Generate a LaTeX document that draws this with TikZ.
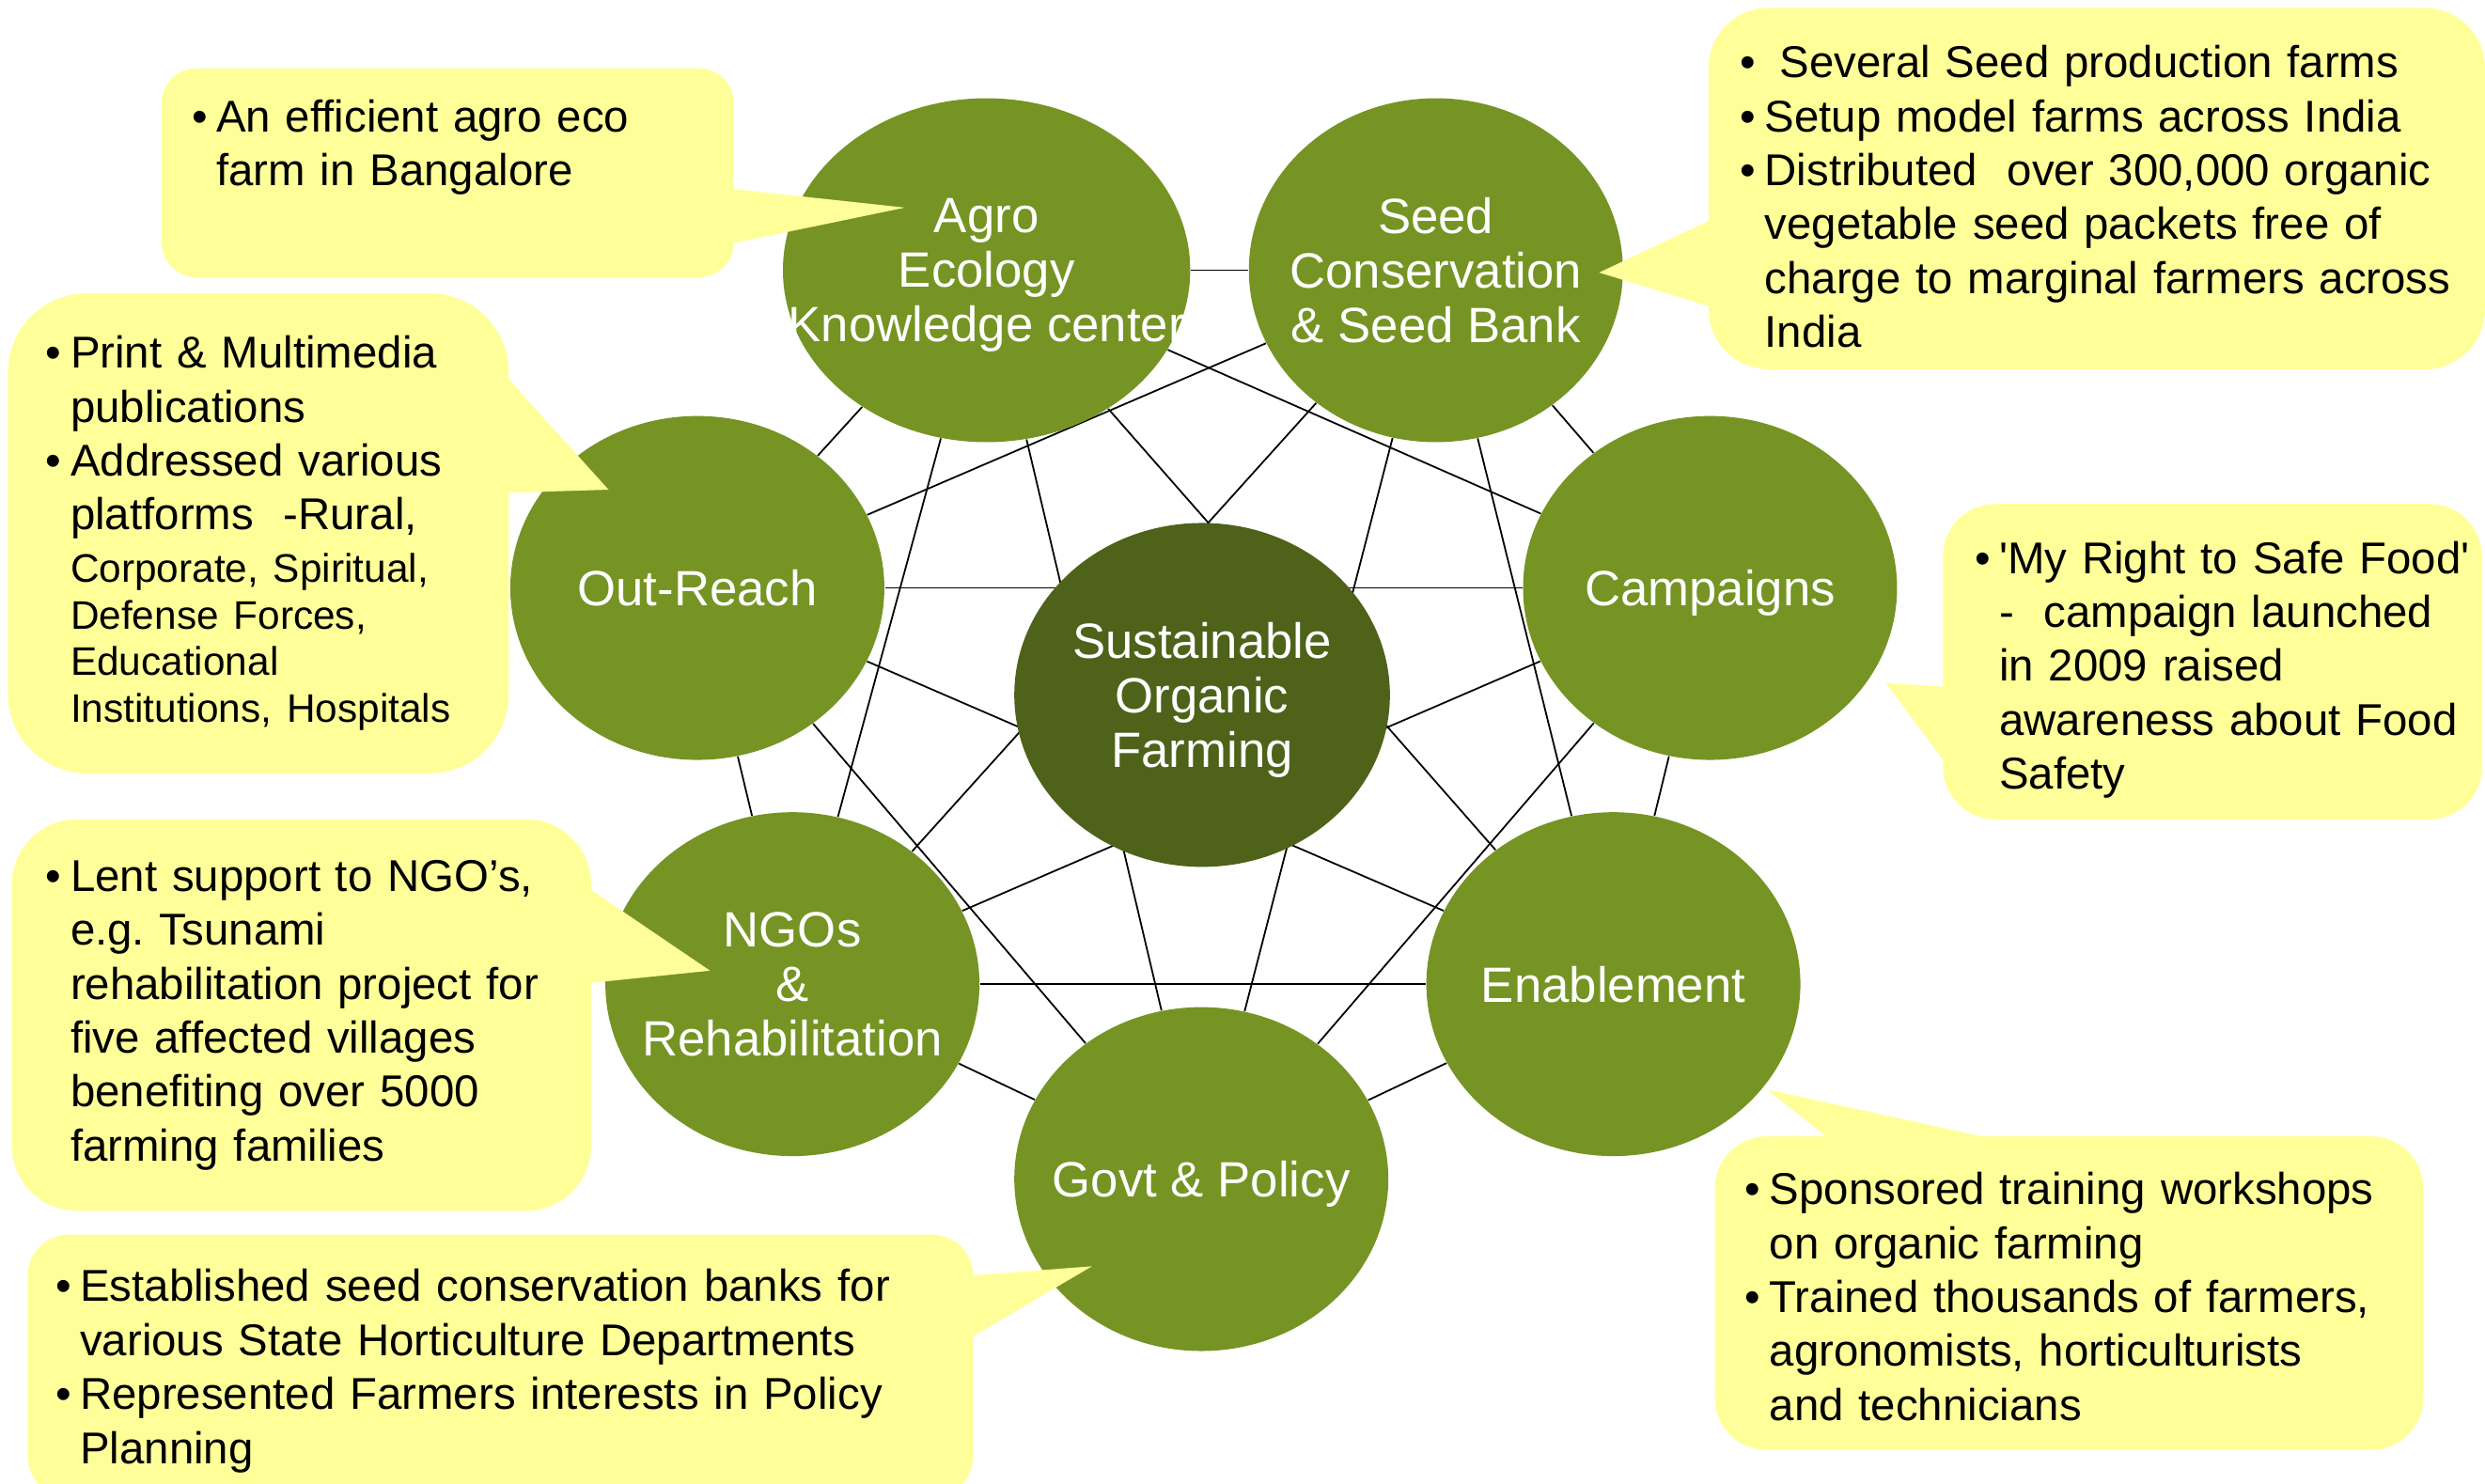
\documentclass[tikz,border=0pt]{standalone}
\usepackage{fontspec}
\setmainfont{Liberation Sans}
\usepackage{xcolor}
\usetikzlibrary{shapes.geometric,backgrounds}

\definecolor{hubgreen}{RGB}{117,148,35}
\definecolor{coregreen}{RGB}{78,98,25}
\definecolor{noteyellow}{RGB}{255,255,153}

\frenchspacing
\newcommand{\hubfont}{\fontsize{17.8}{19.6}\selectfont}
\newcommand{\notefont}{\fontsize{16}{19.35}\selectfont}
\newcommand{\smallnote}{\fontsize{14.3}{16.8}\selectfont}
\newcommand{\nitem}[1]{\mbox{\makebox[0.31cm][l]{\textbullet}#1}}
\newcommand{\ncont}[1]{\mbox{\hspace*{0.31cm}#1}}

\tikzset{
  hub/.style={ellipse, fill=hubgreen, minimum width=4.72cm, minimum height=4.34cm, inner sep=0pt},
  hubtext/.style={text=white, font=\hubfont, align=center, inner sep=0pt, text depth=0pt},
  link/.style={line width=0.6pt, black},
  note/.style={rectangle, fill=noteyellow, font=\notefont, align=left, inner ysep=0pt},
  notetip/.style={fill=noteyellow}
}

\begin{document}
\begin{tikzpicture}
    \useasboundingbox (0,0) rectangle (31.36,18.72);

    % Centre node
    \node[hub, fill=coregreen, minimum width=4.74cm] (sof) at (15.17,9.95) {};
    \node[hubtext] (sof-t) at (sof) {Sustainable\\Organic\\Farming};

    % Outer nodes
    \node[hub, minimum width=5.14cm] (agro) at (12.45,15.31) {};
    \node[hubtext] (agro-t) at (agro) {Agro\\Ecology\\Knowledge center};

    \node[hub] (seed) at (18.12,15.31) {};
    \node[hubtext] (seed-t) at (seed) {Seed\\Conservation\\\& Seed Bank};

    \node[hub] (camp) at (21.58,11.30) {};
    \node[hubtext] (camp-t) at (camp) {Campaigns};

    \node[hub] (enable) at (20.36,6.30) {};
    \node[hubtext] (enable-t) at (enable) {Enablement};

    \node[hub] (govt) at (15.16,3.84) {};
    \node[hubtext] (govt-t) at (govt) {Govt \& Policy};

    \node[hub] (ngo) at (10.00,6.30) {};
    \node[hubtext] (ngo-t) at (ngo) {NGOs\\\&\\Rehabilitation};

    \node[hub] (outreach) at (8.80,11.30) {};
    \node[hubtext] (outreach-t) at (outreach) {Out-Reach};

    % Links between every pair of outer nodes
    \begin{scope}[on background layer]
        \foreach \a [count=\i] in {agro,seed,camp,enable,govt,ngo,outreach} {
            \foreach \b [count=\j] in {agro,seed,camp,enable,govt,ngo,outreach} {
                \ifnum\j>\i \draw[link] (\a) -- (\b); \fi
            }
        }
    \end{scope}

    % Callout: agro ecology
    \node[note, minimum width=7.22cm, minimum height=2.64cm, text width=6.46cm, inner xsep=0.38cm, rounded corners=0.44cm] (c-agro) at (5.65,16.54)
        {\nitem{An efficient agro eco}\\ \ncont{farm in Bangalore}\\ \rule[-2.3pt]{0pt}{2.3pt}};
    \fill[notetip] (9.2,16.34) -- (11.42,16.10) -- (9.2,15.64) -- cycle;

    % Callout: out-reach
    \node[note, minimum width=6.32cm, minimum height=6.06cm, text width=5.36cm, inner xsep=0.48cm, rounded corners=1cm] (c-outreach) at (3.26,11.99)
        {\nitem{Print \& Multimedia}\\
         \ncont{publications}\\
         \nitem{Addressed various}\\
         \ncont{platforms\ \ -Rural,}\\[-0.55pt]
         {\smallnote\ncont{Corporate, Spiritual,}}\\[-2.55pt]
         {\smallnote\ncont{Defense Forces,}}\\[-2.55pt]
         {\smallnote\ncont{Educational}}\\[-2.55pt]
         {\smallnote\ncont{Institutions, Hospitals}}};
    \fill[notetip] (6.36,14.00) -- (7.68,12.54) -- (6.36,12.50) -- cycle;

    % Callout: NGOs
    \node[note, minimum width=7.31cm, minimum height=4.94cm, text width=6.45cm, inner xsep=0.43cm, rounded corners=0.82cm] (c-ngo) at (3.805,5.91)
        {\nitem{Lent support to NGO’s,}\\
         \ncont{e.g. Tsunami}\\
         \ncont{rehabilitation project for}\\
         \ncont{five affected villages}\\
         \ncont{benefiting over 5000}\\
         \ncont{farming families}};
    \fill[notetip] (7.40,7.53) -- (8.96,6.47) -- (7.40,6.31) -- cycle;

    % Callout: govt
    \node[note, minimum width=11.93cm, minimum height=3.32cm, text width=11.23cm, inner xsep=0.35cm, rounded corners=0.52cm] (c-govt) at (6.315,1.48)
        {\rule{0pt}{15.1pt}\nitem{Established seed conservation banks for}\\
         \ncont{various State Horticulture Departments}\\
         \nitem{Represented Farmers interests in Policy}\\
         \ncont{Planning}};
    \fill[notetip] (12.22,2.62) -- (13.78,2.74) -- (12.22,1.82) -- cycle;

    % Callout: seed bank
    \node[note, minimum width=9.8cm, minimum height=4.56cm, text width=9cm, inner xsep=0.4cm, rounded corners=0.76cm] (c-seed) at (26.46,16.34)
        {\rule{0pt}{17.4pt}\nitem{\ Several Seed production farms}\\
         \nitem{Setup model farms across India}\\
         \nitem{Distributed\ \ over 300,000 organic}\\
         \ncont{vegetable seed packets free of}\\
         \ncont{charge to marginal farmers across}\\
         \ncont{India}};
    \fill[notetip] (21.62,15.96) -- (20.18,15.28) -- (21.62,14.84) -- cycle;

    % Callout: campaigns
    \node[note, minimum width=6.8cm, minimum height=3.98cm, text width=6cm, inner xsep=0.4cm, rounded corners=0.66cm] (c-camp) at (27.92,10.37)
        {\rule{0pt}{17.4pt}\nitem{\textquotesingle My Right to Safe Food\textquotesingle}\\
         \ncont{-\ \ campaign launched}\\
         \ncont{in 2009 raised}\\
         \ncont{awareness about Food}\\
         \ncont{Safety}};
    \fill[notetip] (24.58,10.05) -- (23.80,10.10) -- (24.58,9.05) -- cycle;

    % Callout: enablement
    \node[note, minimum width=8.94cm, minimum height=3.96cm, text width=8.18cm, inner xsep=0.38cm, rounded corners=0.66cm] (c-enable) at (26.11,2.40)
        {\rule{0pt}{14pt}\nitem{Sponsored training workshops}\\
         \ncont{on organic farming}\\
         \nitem{Trained thousands of farmers,}\\
         \ncont{agronomists, horticulturists}\\
         \ncont{and technicians}};
    \fill[notetip] (23.12,4.32) -- (22.30,4.97) -- (25.28,4.32) -- cycle;
\end{tikzpicture}
\end{document}
